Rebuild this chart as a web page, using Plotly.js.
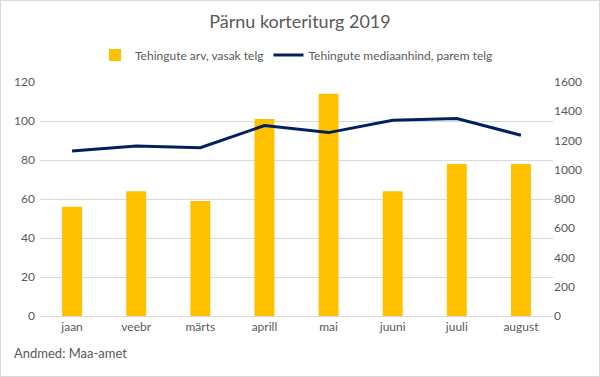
<!DOCTYPE html>
<html>
<head>
<meta charset="utf-8">
<script src="https://cdn.plot.ly/plotly-3.0.1.min.js"></script>
<style>
html,body{margin:0;padding:0;background:#fff;}
#wrap{width:600px;height:377px;box-sizing:border-box;border:1px solid #d9d9d9;overflow:hidden;}
#chart{width:598px;height:375px;}
</style>
</head>
<body>
<div id="wrap"><div id="chart"></div></div>
<script>
const months = ["jaan","veebr","märts","aprill","mai","juuni","juuli","august"];
const dealCount = [56, 64, 59, 101, 114, 64, 78, 78];
const medianPrice = [1129, 1163, 1151, 1302, 1254, 1339, 1350, 1236];
const leftTicks = [0, 20, 40, 60, 80, 100, 120];
const rightTicks = [0, 200, 400, 600, 800, 1000, 1200, 1400, 1600];

const font = "Lato, 'Open Sans', sans-serif";
const grey = "#595959";

const traces = [
  {
    type: "bar",
    name: "Tehingute arv, vasak telg",
    x: months,
    y: dealCount,
    marker: {color: "#FFC000"},
    width: 0.31,
    yaxis: "y"
  },
  {
    type: "scatter",
    mode: "lines",
    name: "Tehingute mediaanhind, parem telg",
    x: months,
    y: medianPrice,
    line: {color: "#002060", width: 3},
    yaxis: "y2"
  }
];

const layout = {
  width: 598,
  height: 375,
  margin: {l: 39, r: 46, t: 81, b: 60},
  paper_bgcolor: "#fff",
  plot_bgcolor: "#fff",
  font: {family: font, color: grey, size: 12},
  title: {text: "Pärnu korteriturg 2019", font: {family: font, size: 18, color: grey}, x: 0.5, xanchor: "center", y: 0.945, yanchor: "middle"},
  showlegend: true,
  legend: {orientation: "h", x: 0.5, xanchor: "center", y: 1.115, yanchor: "middle", font: {family: font, size: 12, color: grey}, itemwidth: 30, traceorder: "normal"},
  xaxis: {
    type: "category",
    showgrid: false,
    showline: true,
    linecolor: "#d9d9d9",
    linewidth: 1,
    ticks: "",
    tickfont: {family: font, size: 12, color: grey}
  },
  yaxis: {
    range: [0, 120],
    tickvals: leftTicks,
    showgrid: true,
    gridcolor: "#d9d9d9",
    gridwidth: 1,
    zeroline: false,
    ticks: "",
    ticklabelstandoff: 4,
    tickfont: {family: font, size: 12, color: grey}
  },
  yaxis2: {
    range: [0, 1600],
    tickvals: rightTicks,
    overlaying: "y",
    side: "right",
    showgrid: false,
    zeroline: false,
    ticks: "",
    tickfont: {family: font, size: 12, color: grey}
  },
  annotations: [
    {
      text: "Andmed: Maa-amet",
      xref: "paper", yref: "paper",
      x: -0.055, y: -0.16,
      xanchor: "left", yanchor: "middle",
      showarrow: false,
      font: {family: font, size: 13, color: grey}
    }
  ]
};

Plotly.newPlot("chart", traces, layout, {displayModeBar: false, staticPlot: true});
</script>
</body>
</html>
